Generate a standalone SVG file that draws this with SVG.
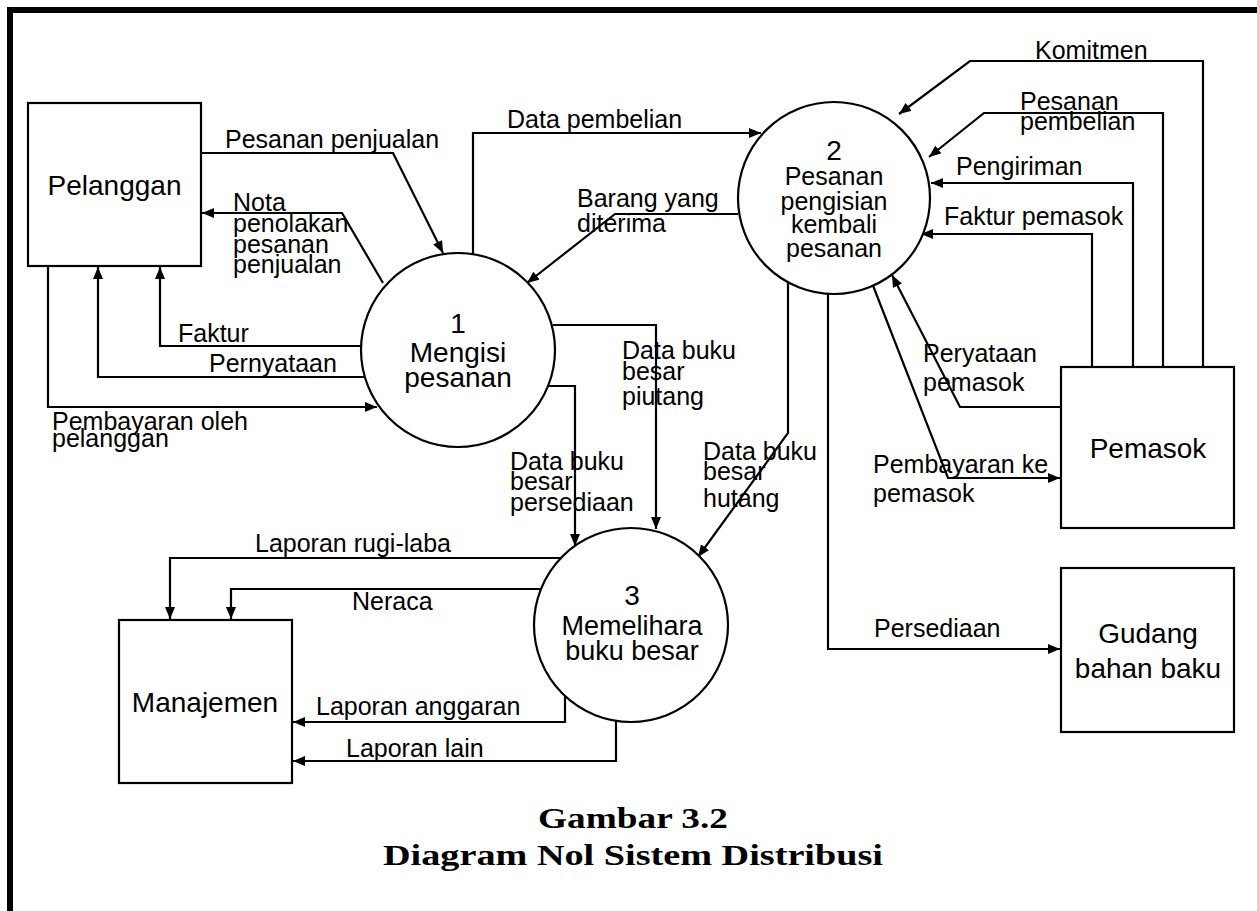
<svg xmlns="http://www.w3.org/2000/svg" width="1257" height="911" viewBox="0 0 1257 911">
<style>
.frame{stroke:#000;stroke-width:6;fill:none}
.box{fill:#fff;stroke:#000;stroke-width:2.2}
.proc{fill:#fff;stroke:#000;stroke-width:2.2}
.c{fill:none;stroke:#000;stroke-width:2.2;marker-end:url(#ah)}
.lbl{font-family:"Liberation Sans",Arial,sans-serif;font-size:25px;fill:#000}
.nl{font-family:"Liberation Sans",Arial,sans-serif;font-size:28px;fill:#000;text-anchor:middle}
.pl{font-family:"Liberation Sans",Arial,sans-serif;font-size:25px;fill:#000;text-anchor:middle}
.cap{font-family:"Liberation Serif","DejaVu Serif",serif;font-weight:bold;font-size:30px;fill:#000;text-anchor:middle}
</style>
<defs>
<marker id="ah" viewBox="0 0 12 10" refX="12" refY="5" markerWidth="12" markerHeight="10" orient="auto" markerUnits="userSpaceOnUse"><path d="M0,0 L12,5 L0,10 z" fill="#000"/></marker>
</defs>
<rect width="1257" height="911" fill="#fff"/>
<path class="frame" d="M10,911 V10 H1257"/>

<g id="connectors">
<path class="c" d="M201,153 H393 L443,253"/>
<path class="c" d="M383,283 L342,213 H202"/>
<path class="c" d="M362,346 H160 V267"/>
<path class="c" d="M365,377 H98 V267"/>
<path class="c" d="M48,266 V407 H377"/>
<path class="c" d="M473,254 V133 H761"/>
<path class="c" d="M738,214 H615 L527,283"/>
<path class="c" d="M1203,367 V61 H970 L899,114"/>
<path class="c" d="M1163,367 V113 H984 L929,157"/>
<path class="c" d="M1133,367 V183 H931"/>
<path class="c" d="M1092,367 V234 H921"/>
<path class="c" d="M1061,407 H960 L892,275"/>
<path class="c" d="M872,283 L948,478 H1060"/>
<path class="c" d="M828,294 V649 H1060"/>
<path class="c" d="M788,282 V433 L698,557"/>
<path class="c" d="M553,325 H656 V529"/>
<path class="c" d="M547,386 H575 V546"/>
<path class="c" d="M561,558 H170 V619"/>
<path class="c" d="M541,589 H231 V619"/>
<path class="c" d="M565,696 V722 H293"/>
<path class="c" d="M616,721 V761 H293"/>
</g>

<g id="labels">
<text class="lbl" x="225" y="148">Pesanan penjualan</text>
<text class="lbl" x="233" y="211">Nota</text>
<text class="lbl" x="233" y="232">penolakan</text>
<text class="lbl" x="233" y="253">pesanan</text>
<text class="lbl" x="233" y="273">penjualan</text>
<text class="lbl" x="178" y="342">Faktur</text>
<text class="lbl" x="209" y="372">Pernyataan</text>
<text class="lbl" x="52" y="430">Pembayaran oleh</text>
<text class="lbl" x="52" y="447">pelanggan</text>
<text class="lbl" x="507" y="128">Data pembelian</text>
<text class="lbl" x="577" y="207">Barang yang</text>
<text class="lbl" x="577" y="232">diterima</text>
<text class="lbl" x="1035" y="59">Komitmen</text>
<text class="lbl" x="1020" y="110">Pesanan</text>
<text class="lbl" x="1020" y="130">pembelian</text>
<text class="lbl" x="956" y="175">Pengiriman</text>
<text class="lbl" x="944" y="225">Faktur pemasok</text>
<text class="lbl" x="923" y="362">Peryataan</text>
<text class="lbl" x="923" y="391">pemasok</text>
<text class="lbl" x="873" y="473">Pembayaran ke</text>
<text class="lbl" x="873" y="502">pemasok</text>
<text class="lbl" x="874" y="637">Persediaan</text>
<text class="lbl" x="703" y="460">Data buku</text>
<text class="lbl" x="703" y="480">besar</text>
<text class="lbl" x="703" y="507">hutang</text>
<text class="lbl" x="622" y="359">Data buku</text>
<text class="lbl" x="622" y="380">besar</text>
<text class="lbl" x="622" y="405">piutang</text>
<text class="lbl" x="510" y="470">Data buku</text>
<text class="lbl" x="510" y="490">besar</text>
<text class="lbl" x="510" y="511">persediaan</text>
<text class="lbl" x="255" y="552">Laporan rugi-laba</text>
<text class="lbl" x="352" y="610">Neraca</text>
<text class="lbl" x="316" y="715">Laporan anggaran</text>
<text class="lbl" x="346" y="757">Laporan lain</text>
</g>

<g id="pelanggan">
<rect class="box" x="28" y="103" width="173" height="163"/>
<text class="nl" x="114.5" y="195">Pelanggan</text>
</g>
<g id="pemasok">
<rect class="box" x="1061" y="367" width="173" height="161"/>
<text class="nl" x="1148" y="458">Pemasok</text>
</g>
<g id="gudang">
<rect class="box" x="1061" y="568" width="173" height="164"/>
<text class="nl" x="1148" y="643">Gudang</text>
<text class="nl" x="1148" y="678">bahan baku</text>
</g>
<g id="manajemen">
<rect class="box" x="119" y="620" width="173" height="163"/>
<text class="nl" x="205" y="712">Manajemen</text>
</g>
<g id="proses1">
<circle class="proc" cx="458" cy="350" r="97"/>
<text class="nl" x="458" y="333">1</text>
<text class="nl" x="458" y="362">Mengisi</text>
<text class="nl" x="458" y="387">pesanan</text>
</g>
<g id="proses2">
<circle class="proc" cx="834" cy="198" r="96"/>
<text class="nl" x="834" y="160">2</text>
<text class="pl" x="834" y="185">Pesanan</text>
<text class="pl" x="834" y="210">pengisian</text>
<text class="pl" x="834" y="233">kembali</text>
<text class="pl" x="834" y="257">pesanan</text>
</g>
<g id="proses3">
<circle class="proc" cx="631" cy="625" r="97"/>
<text class="nl" x="632" y="605">3</text>
<text class="nl" x="632" y="635" style="font-size:27px">Memelihara</text>
<text class="nl" x="632" y="660" style="font-size:27px">buku besar</text>
</g>

<g id="caption">
<text class="cap" x="633" y="828" textLength="190" lengthAdjust="spacingAndGlyphs">Gambar 3.2</text>
<text class="cap" x="633" y="865" textLength="500" lengthAdjust="spacingAndGlyphs">Diagram Nol Sistem Distribusi</text>
</g>
</svg>
